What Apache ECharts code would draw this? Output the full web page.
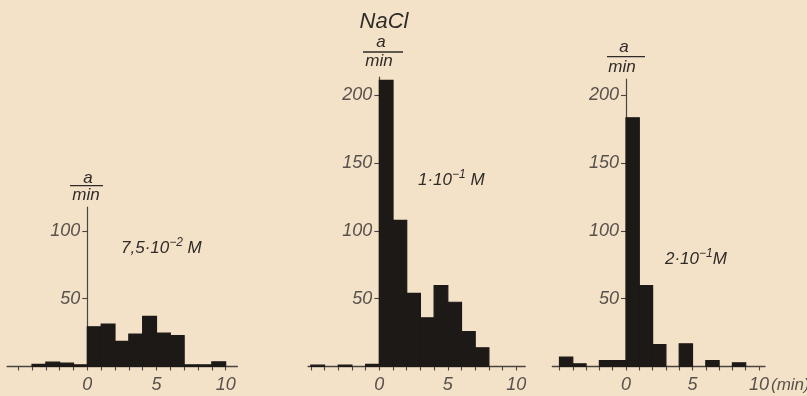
<!DOCTYPE html>
<html><head><meta charset="utf-8">
<script src="https://cdn.jsdelivr.net/npm/echarts@6/dist/echarts.min.js"></script>
<style>html,body{margin:0;padding:0;background:#f4e2c8}#c{width:807px;height:396px}</style>
</head><body><div id="c"></div><script>
// ---- data (bins = left edge of 1-minute interval, counts in a/min) ----
const binsA   = [-4, -3, -2, -1, 0, 1, 2, 3, 4, 5, 6, 7, 8, 9];
const countsA = [1.5, 3.2, 2.5, 1.2, 29.3, 31.3, 18.5, 23.9, 37, 24.6, 22.7, 1.2, 1.2, 3.4];
const binsB   = [-5, -3, -1, 0, 1, 2, 3, 4, 5, 6, 7];
const countsB = [1, 1, 1.5, 211, 107.7, 54, 35.9, 59.7, 47.4, 25.8, 13.8];
const binsC   = [-5, -4, -2, -1, 0, 1, 2, 4, 6, 8];
const countsC = [6.9, 2, 4.4, 4.4, 183.4, 59.7, 16.2, 16.7, 4.4, 2.7];
const xTickLabels = [0, 5, 10];
const xMinorTicks = [-5, -4, -3, -2, -1, 0, 1, 2, 3, 4, 5, 6, 7, 8, 9, 10];
const yTicksA = [50, 100];
const yTicksBC = [50, 100, 150, 200];
const labelsConc = ['7,5·10|−2| M', '1·10|−1| M', '2·10|−1|M'];
const title = 'NaCl';

const INK = '#2f2b28', AX = '#4a4541', TXT = '#58524d', BAR = '#1c1917';
const FONT = '"Liberation Sans", Arial, sans-serif';

function toData(bins, counts){ return bins.map((b,i)=>[b, b+1, counts[i]]); }

function renderBar(params, api){
  const x0 = api.value(0), x1 = api.value(1), v = api.value(2);
  const p0 = api.coord([x0, v]), p1 = api.coord([x1, 0]);
  return {type:'rect', shape:{x:p0[0], y:p0[1], width:p1[0]-p0[0], height:p1[1]-p0[1]},
          style:{fill:BAR, stroke:BAR, lineWidth:1.2}};
}

const panels = [
  {left:7.1,  width:230.3, top:207.0, height:159.5, xMin:-5.8,  xMax:10.85, yMax:117.6, yTicks:yTicksA,  data:toData(binsA,countsA)},
  {left:308.1,width:217.1, top:77.0,  height:289.5, xMin:-5.2,  xMax:10.65, yMax:213.5, yTicks:yTicksBC, data:toData(binsB,countsB)},
  {left:552.3,width:212.7, top:79.0,  height:287.5, xMin:-5.54, xMax:10.45, yMax:212,   yTicks:yTicksBC, data:toData(binsC,countsC)}
];

const grid = [], xAxis = [], yAxis = [], series = [];
panels.forEach((p,i)=>{
  // shift y axis so it sits at x = 0 of the panel's time axis
  const zeroOffset = -(0 - p.xMin) * p.width / (p.xMax - p.xMin);
  grid.push({left:p.left, width:p.width, top:p.top, height:p.height, containLabel:false, outerBoundsMode:'none'});
  xAxis.push({type:'value', gridIndex:i, min:p.xMin, max:p.xMax,
    axisLine:{show:true, onZero:true, lineStyle:{color:AX, width:1.3}},
    axisTick:{show:true, customValues:xMinorTicks, length:4, inside:false, lineStyle:{color:AX, width:1.1}},
    axisLabel:{show:true, customValues:xTickLabels, margin:9, fontSize:18, fontStyle:'italic', fontFamily:FONT, color:TXT},
    splitLine:{show:false}});
  yAxis.push({type:'value', gridIndex:i, min:0, max:p.yMax, position:'left', offset:zeroOffset,
    axisLine:{show:true, onZero:false, lineStyle:{color:AX, width:1.2}},
    axisTick:{show:true, customValues:p.yTicks, length:5, inside:false, lineStyle:{color:AX, width:1.1}},
    axisLabel:{show:true, customValues:p.yTicks, margin:7, fontSize:18, fontStyle:'italic', fontFamily:FONT, color:TXT},
    splitLine:{show:false}});
  series.push({type:'custom', xAxisIndex:i, yAxisIndex:i, renderItem:renderBar,
    encode:{x:[0,1], y:2}, data:p.data, silent:true, animation:false, z:1});
});

function concText(s, x, y){
  const [a,b,c] = s.split('|');
  return {type:'text', x:x, y:y, silent:true, style:{
    text:'{n|'+a+'}{s|'+b+'}{n|'+c+'}', textAlign:'left', textVerticalAlign:'middle',
    rich:{ n:{fontSize:17, fontStyle:'italic', fontFamily:FONT, fill:INK, color:INK, verticalAlign:'bottom', lineHeight:20},
           s:{fontSize:12, fontStyle:'italic', fontFamily:FONT, fill:INK, color:INK, verticalAlign:'top', lineHeight:20} }}};
}
function fraction(cx, ya, yl, ym, x0, x1){
  return {type:'group', silent:true, children:[
    {type:'text', x:cx+2, y:ya, style:{text:'a', fontSize:17, fontStyle:'italic', fontFamily:FONT, fill:INK, textAlign:'center', textVerticalAlign:'middle'}},
    {type:'line', shape:{x1:x0, y1:yl, x2:x1, y2:yl}, style:{stroke:INK, lineWidth:1.3}},
    {type:'text', x:cx, y:ym, style:{text:'min', fontSize:17, fontStyle:'italic', fontFamily:FONT, fill:INK, textAlign:'center', textVerticalAlign:'middle'}}
  ]};
}

const graphic = [
  {type:'text', x:384, y:22, silent:true, style:{text:title, fontSize:22, fontStyle:'italic', fontFamily:FONT, fill:INK, textAlign:'center', textVerticalAlign:'middle'}},
  fraction(86, 178, 185.7, 195, 70, 103),
  fraction(379, 42, 52, 61, 363, 403),
  fraction(622, 47, 56.7, 67, 607, 645),
  concText(labelsConc[0], 121, 247),
  concText(labelsConc[1], 418, 179),
  concText(labelsConc[2], 665, 257.5),
  {type:'text', x:771, y:385, silent:true, style:{text:'(min)', fontSize:17, fontStyle:'italic', fontFamily:FONT, fill:TXT, textAlign:'left', textVerticalAlign:'middle'}}
];

const chart = echarts.init(document.getElementById('c'), null, {renderer:'canvas'});
chart.setOption({backgroundColor:'#f4e2c8', animation:false, grid, xAxis, yAxis, series, graphic});
</script></body></html>
